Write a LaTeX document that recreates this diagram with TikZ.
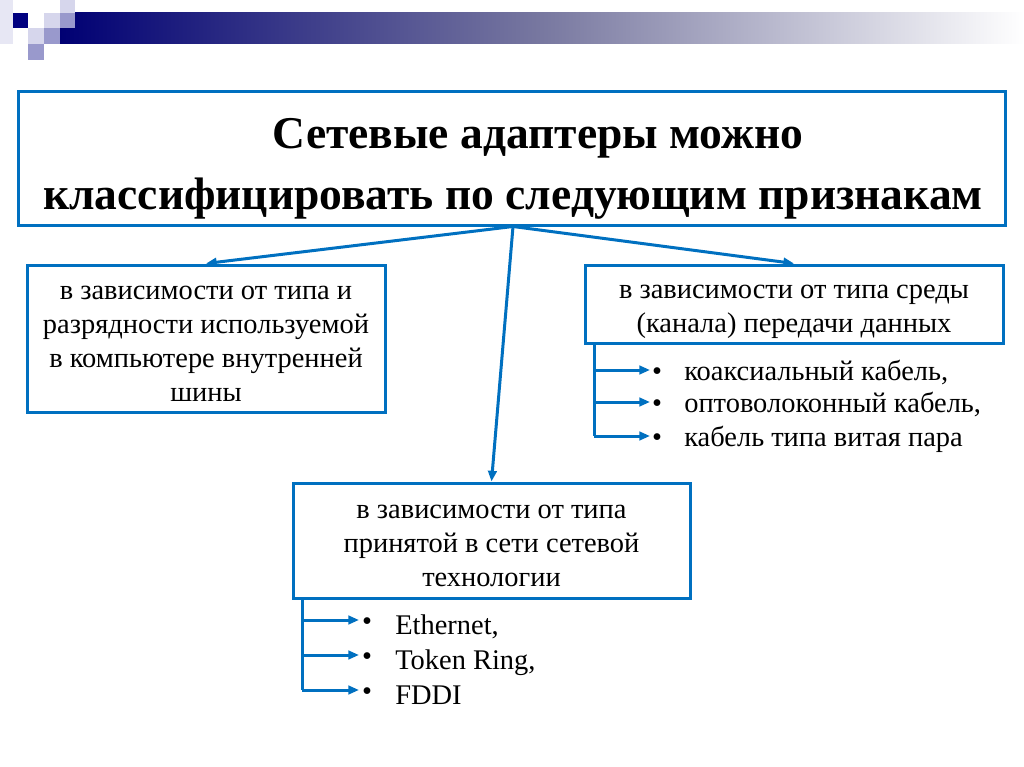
\documentclass[tikz,border=0pt]{standalone}
\usepackage{fontspec}
\setmainfont{Liberation Serif}
\usetikzlibrary{arrows.meta,calc}
\newlength{\pxu}
\setlength{\pxu}{0.703125pt}
\definecolor{bordblue}{RGB}{0,112,192}
\definecolor{navyd}{RGB}{0,0,128}
\definecolor{lav}{RGB}{214,214,236}
\definecolor{lavm}{RGB}{153,153,204}
\definecolor{bargray}{RGB}{120,120,160}
\tikzset{
  box/.style={draw=bordblue, line width=3\pxu, fill=white, inner sep=0pt},
  boxtext/.style={align=center, inner sep=0pt, font=\fontsize{20}{23.9}\selectfont},
  conn/.style={draw=bordblue, line width=3\pxu, -{Triangle[length=7.5pt,width=6pt]}},
  wire/.style={draw=bordblue, line width=3\pxu},
  itemtext/.style={font=\fontsize{20}{22}\selectfont, inner sep=0pt},
  titletext/.style={font=\fontsize{32}{36}\selectfont\bfseries, inner sep=0pt},
}
\begin{document}
\begin{tikzpicture}[x=\pxu, y=-\pxu]
\useasboundingbox (0,0) rectangle (1024,767);
% decoration
\fill[lav!60] (0,0) rectangle (13,44);
\shade[left color=navyd!90!black, right color=white, middle color=bargray] (60,13) rectangle (1024,44);
\fill[navyd] (13,13) rectangle (28,28);
\fill[lav] (44,13) rectangle (60,28);
\fill[lav] (60,0) rectangle (75,13);
\fill[lavm] (60,13) rectangle (75,28);
\fill[lav] (28,28) rectangle (44,44);
\fill[lavm] (44,28) rectangle (60,44);
\fill[lavm] (28,44) rectangle (44,60);
% title
\node[box, minimum width=987\pxu, minimum height=133\pxu] (title) at (511.5,158.5) {};
\node[titletext, anchor=base] (t1) at (538,149) {Сетевые адаптеры можно};
\node[titletext, anchor=base] (t2) at (513,210) {классифицировать по следующим признакам};
% boxes
\node[box, minimum width=358\pxu, minimum height=147\pxu] (left) at (206,338.5) {};
\node[boxtext] (ltxt) at (206,343.5) {в зависимости от типа и\\разрядности используемой\\в компьютере внутренней\\шины};
\node[box, minimum width=418\pxu, minimum height=78\pxu] (right) at (794,304) {};
\node[boxtext] (rtxt) at (794,312) {в зависимости от типа среды\\(канала) передачи данных};
\node[box, minimum width=397\pxu, minimum height=115\pxu] (bot) at (491.5,540.5) {};
\node[boxtext] (btxt) at (491.5,545.5) {в зависимости от типа\\принятой в сети сетевой\\технологии};
% main arrows
\coordinate (src) at ($(title.south)+(1.5,0)$);
\draw[conn] (src) -- (left.north);
\draw[conn] (src) -- (right.north);
\draw[conn] (src) -- (bot.north);
% right list
\coordinate (rtop) at (594,343);
\coordinate (rbot) at (594,436);
\draw[wire] (rtop) -- (rbot);
\foreach \i/\y/\t in {1/370/{коаксиальный кабель,},2/402/{оптоволоконный кабель,},3/436/{кабель типа витая пара}}{
  \node[itemtext, anchor=base] (rb\i) at (657,\y+10) {•};
  \node[itemtext, anchor=base west] (rt\i) at (684,\y+10) {\t};
  \coordinate (rs\i) at (594,\y);
  \coordinate (re\i) at (650,\y);
  \draw[conn] (rs\i) -- (re\i);
}
% bottom list
\coordinate (btop) at (302,598);
\coordinate (bbot) at (302,690);
\draw[wire] (btop) -- (bbot);
\foreach \i/\y/\t in {1/620/{Ethernet,},2/655/{Token Ring,},3/690/{FDDI}}{
  \node[itemtext, anchor=base] (bb\i) at (367,\y+10) {•};
  \node[itemtext, anchor=base west] (bt\i) at (395,\y+14) {\t};
  \coordinate (bs\i) at (302,\y);
  \coordinate (be\i) at (359,\y);
  \draw[conn] (bs\i) -- (be\i);
}
\end{tikzpicture}
\end{document}
